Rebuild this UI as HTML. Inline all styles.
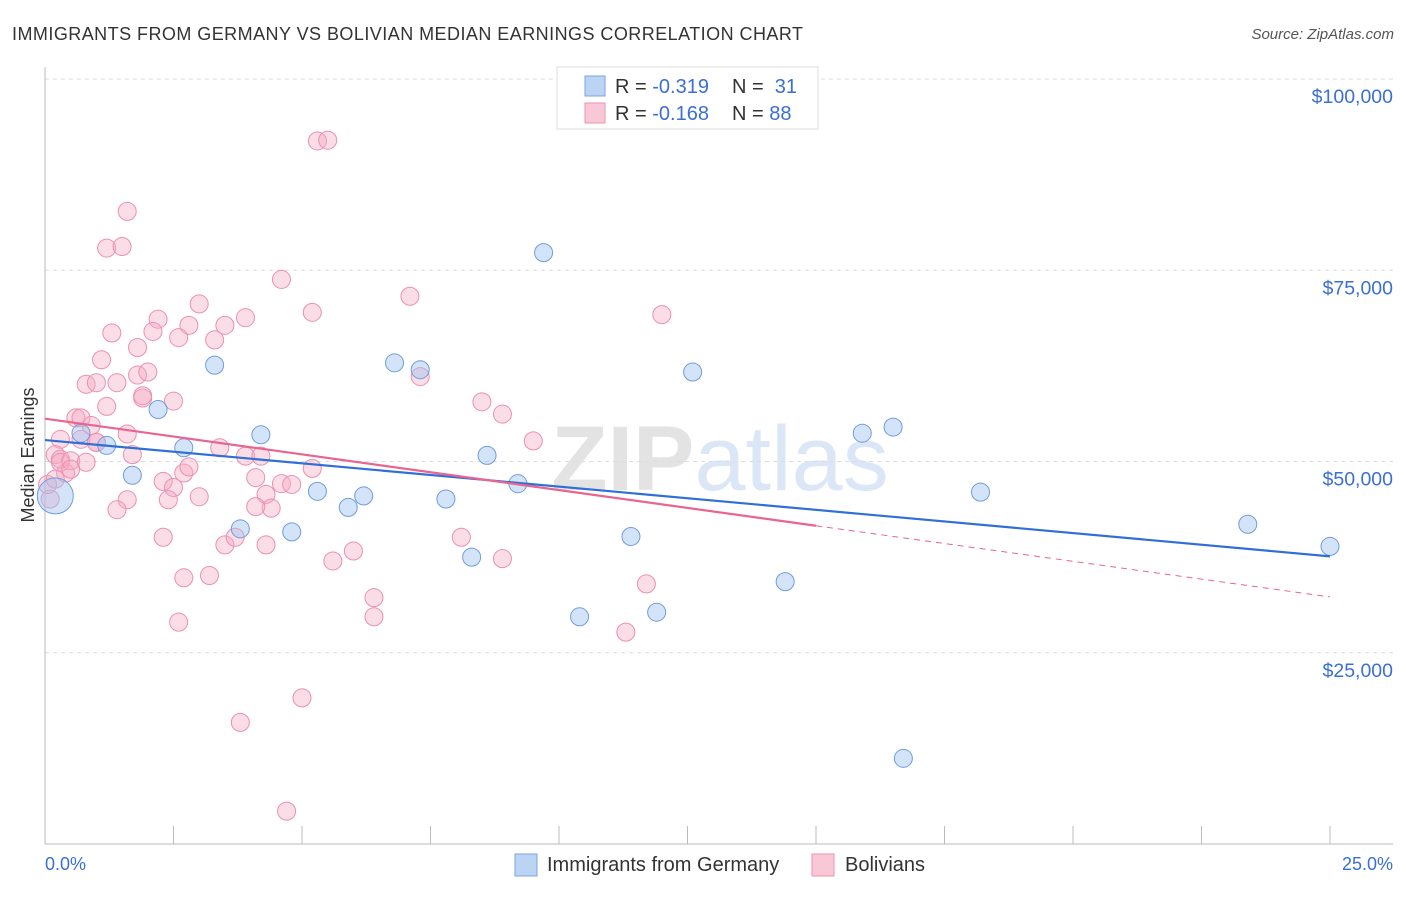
<!DOCTYPE html>
<html><head><meta charset="utf-8"><style>
body{margin:0;background:#fff;font-family:"Liberation Sans",sans-serif;}
svg text{font-family:"Liberation Sans",sans-serif;}
</style></head><body>
<svg id="c" width="1406" height="892">
<text x="12" y="40" font-size="18" fill="#333" textLength="791">IMMIGRANTS FROM GERMANY VS BOLIVIAN MEDIAN EARNINGS CORRELATION CHART</text>
<text x="1394" y="39" font-size="15" fill="#555" font-style="italic" text-anchor="end">Source: ZipAtlas.com</text>
<text x="720" y="490" font-size="92" fill="#ebebeb" text-anchor="middle" font-family="Liberation Serif"><tspan font-weight="bold" fill="#e3e3e3">ZIP</tspan><tspan fill="#dbe7f6" font-family="Liberation Sans">atlas</tspan></text>
<g id="grid"></g><g id="axes"></g><g id="pts"></g><g id="trend"></g>
<text transform="translate(34,455) rotate(-90)" font-size="18" fill="#333" text-anchor="middle">Median Earnings</text>
<text x="45" y="870" font-size="18" fill="#3b6fd4">0.0%</text>
<text x="1393" y="870" font-size="18" fill="#3b6fd4" text-anchor="end">25.0%</text>
<g>
<rect x="557" y="67" width="261" height="62" fill="#fff" stroke="#ddd"/>
<rect x="585" y="76" width="20" height="20" fill="#bcd4f4" stroke="#7aa4e0"/>
<rect x="585" y="103" width="20" height="20" fill="#f9c8d6" stroke="#ec93b0"/>
<text x="615" y="93" font-size="20" fill="#333">R = <tspan fill="#3b6fd4">-0.319</tspan><tspan x="732">N = </tspan><tspan fill="#3b6fd4">&#160;31</tspan></text>
<text x="615" y="120" font-size="20" fill="#333">R = <tspan fill="#3b6fd4">-0.168</tspan><tspan x="732">N = </tspan><tspan fill="#3b6fd4">88</tspan></text>
</g>
<g>
<rect x="515" y="854" width="22" height="22" fill="#bcd4f4" stroke="#7aa4e0"/>
<text x="547" y="871" font-size="20" fill="#333">Immigrants from Germany</text>
<rect x="812" y="854" width="22" height="22" fill="#f9c8d6" stroke="#ec93b0"/>
<text x="845" y="871" font-size="20" fill="#333">Bolivians</text>
</g>
</svg>
<script>
const yTicks=[25000,50000,75000,100000];
const yTickLabels=["$25,000","$50,000","$75,000","$100,000"];
const xTicks=[0,2.5,5,7.5,10,12.5,15,17.5,20,22.5,25];
const germanyX=[0.2,0.7,1.2,1.7,2.2,2.7,3.3,3.8,4.2,4.8,5.3,5.9,6.2,6.8,7.3,7.8,8.3,8.6,9.2,9.7,10.4,11.4,11.9,12.6,14.4,15.9,16.5,16.7,18.2,23.4,25.0];
const germanyY=[45500,53700,52100,48200,56800,51800,62600,41200,53500,40800,46100,44000,45500,62900,62000,45100,37500,50800,47100,77300,29700,40200,30300,61700,34300,53700,54500,11200,46000,41800,38900];
const bolX=[1.6,1.2,1.5,4.6,3.0,7.1,5.2,12.0,2.2,2.8,3.9,3.5,1.3,2.1,2.6,3.3,1.8,1.1,1.8,2.0,0.8,1.0,1.4,2.5,1.9,1.9,1.2,0.6,0.7,0.9,1.0,1.6,0.3,0.4,0.2,0.3,0.3,0.5,0.8,1.7,3.4,3.9,4.2,2.7,2.8,2.3,2.5,3.0,1.6,1.4,2.4,4.1,4.3,4.4,4.6,4.8,5.2,4.1,2.3,3.5,3.7,4.3,2.7,3.2,5.6,6.0,6.4,6.4,7.3,8.5,8.9,9.5,8.1,8.9,11.7,11.3,2.6,3.8,5.0,4.7,5.3,5.5,0.1,0.05,0.2,0.5,0.7,1.0];
const bolY=[82700,77900,78100,73800,70600,71600,69500,69200,68600,67800,68800,67800,66800,67000,66200,65900,64900,63300,61300,61700,60100,60300,60300,57900,58300,58600,57200,55700,55700,54700,52500,53600,52900,48500,50900,50300,49900,50100,49900,50900,51800,50700,50700,48500,49300,47400,46600,45400,45000,43700,45000,47900,45700,43900,47100,47000,49100,44100,40100,39100,40100,39100,34800,35100,37000,38300,32200,29700,61100,57800,56200,52700,40100,37300,34000,27700,29000,15900,19100,4300,91900,92000,45100,47000,47700,49000,52900,52500];
const trendGermany=[52800,37600];
const trendBol=[55600,41600,32300];
const NS="http://www.w3.org/2000/svg";
const X0=45,X1=1330,Y0=844,YT=79;
const xs=v=>X0+(X1-X0)*v/25;
const ys=v=>Y0-(Y0-YT)*v/100000;
function mk(tag,attrs,parent){const e=document.createElementNS(NS,tag);for(const k in attrs)e.setAttribute(k,attrs[k]);document.getElementById(parent).appendChild(e);return e;}
yTicks.forEach((t,i)=>{
 const l=mk('line',{x1:X0,x2:1393,y1:ys(t),y2:ys(t),stroke:'#ddd','stroke-dasharray':'4,4'},'grid');
 
 
 const tx=mk('text',{x:1393,y:ys(t)+24,'font-size':19.5,fill:'#3b6fd4','text-anchor':'end'},'grid');
 tx.textContent=yTickLabels[i];
 
 
});
const ax=mk('line',{x1:X0,x2:X0,y1:67,y2:Y0,stroke:'#bbb'},'axes');


const bx=mk('line',{x1:X0,x2:1393,y1:Y0,y2:Y0,stroke:'#bbb'},'axes');


xTicks.forEach(t=>{
 const l=mk('line',{x1:xs(t),x2:xs(t),y1:826,y2:Y0,stroke:'#bbb'},'axes');
 
 
});
bolX.forEach((x,i)=>{
 const c=mk('circle',{cx:xs(x),cy:ys(bolY[i]),r:9,fill:'rgba(244,170,195,0.4)',stroke:'#ec90ae','stroke-width':1},'pts');
 
 
});
germanyX.forEach((x,i)=>{
 const c=mk('circle',{cx:xs(x),cy:ys(germanyY[i]),r:i===0?18:9,fill:'rgba(160,195,240,0.45)',stroke:'#6f9ce0','stroke-width':1},'pts');
 
 
});
const l1=mk('line',{x1:xs(0),y1:ys(trendGermany[0]),x2:xs(25),y2:ys(trendGermany[1]),stroke:'#2f6fd6','stroke-width':2.2},'trend');


const l2=mk('line',{x1:xs(0),y1:ys(trendBol[0]),x2:xs(15),y2:ys(trendBol[1]),stroke:'#e8658f','stroke-width':2.2},'trend');


const l3=mk('line',{x1:xs(15),y1:ys(trendBol[1]),x2:xs(25),y2:ys(trendBol[2]),stroke:'#e8658f','stroke-width':1,'stroke-dasharray':'6,5'},'trend');


</script>
</body></html>
